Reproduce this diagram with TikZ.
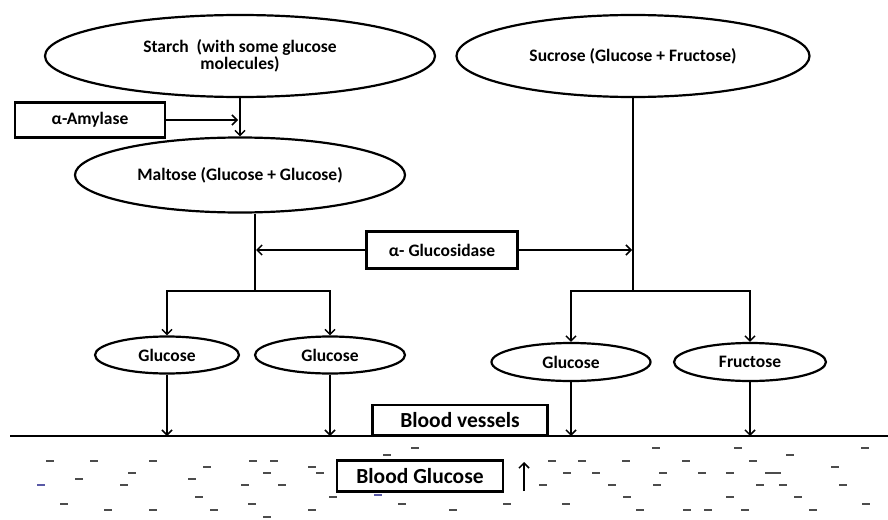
\documentclass[tikz,border=0pt]{standalone}
\usepackage{fontspec}
\setmainfont{Carlito}
\usetikzlibrary{shapes.geometric, arrows.meta}

\begin{document}
\begin{tikzpicture}[x=1pt, y=-1pt, >={Straight Barb[length=5pt,width=10pt]},
    every node/.style={font=\bfseries\fontsize{17.5}{17}\selectfont},
    big/.style={font=\bfseries\fontsize{21.5}{22}\selectfont},
    sugar/.style={ellipse, draw, line width=2.2pt, inner sep=0pt},
    enzyme/.style={rectangle, draw, line width=2.4pt, inner sep=0pt},
    link/.style={->, line width=1.5pt}]
    \useasboundingbox (0,0) rectangle (888,519);
    % top level sugars
    \node[sugar, minimum width=390, minimum height=82, align=center] (starch) at (240,56)
        {Starch\ \ (with some glucose\\molecules)};
    \node[sugar, minimum width=353, minimum height=82] (sucrose) at (633,56) {Sucrose (Glucose + Fructose)};
    \node[sugar, minimum width=330, minimum height=75] (maltose) at (240,175) {Maltose (Glucose + Glucose)};
    % enzymes
    \node[enzyme, minimum width=150, minimum height=35] (amylase) at (90,120) {α-Amylase};
    \node[enzyme, minimum width=151, minimum height=37] (glucosidase) at (442,250) {α- Glucosidase};
    % products
    \node[sugar, minimum width=144, minimum height=37] (g1) at (167,355) {Glucose};
    \node[sugar, minimum width=150, minimum height=37] (g2) at (330,355) {Glucose};
    \node[sugar, minimum width=159, minimum height=38] (g3) at (571,362) {Glucose};
    \node[sugar, minimum width=152, minimum height=38] (fru) at (750,362) {Fructose};
    % blood
    \node[enzyme, big, minimum width=175, minimum height=30] (vessel) at (460,420) {Blood vessels};
    \node[enzyme, big, minimum width=166, minimum height=31] (bgluc) at (420,476) {Blood Glucose};
    \coordinate (bl) at (10,436);
    \coordinate (br) at (888,436);
    \coordinate (mfork) at (255,291);
    \coordinate (sfork) at (633,291);
    \coordinate (rise) at (524,491);

    \draw[link] (starch.south) -- (maltose.north);
    \draw[link, shorten >=2pt] (amylase.east) -- (amylase.east -| starch.south);
    \draw[line width=1.5pt] (maltose.south -| mfork) -- (mfork);
    \draw[line width=1.5pt] (sucrose.south) -- (sfork);
    \draw[link, shorten >=1pt] (glucosidase.west) -- (glucosidase.west -| mfork);
    \draw[link, shorten >=1pt] (glucosidase.east) -- (glucosidase.east -| sfork);
    \draw[link] (mfork) -| (g1);
    \draw[link] (mfork) -| (g2);
    \draw[link] (sfork) -| (g3);
    \draw[link] (sfork) -| (fru);
    \foreach \n in {g1,g2,g3,fru} {
        \draw[link] (\n.south) -- (\n.south |- bl);
    }
    \draw[line width=1.2pt] (bl) -- (br);
    \draw[->, line width=1.5pt] (rise) -- ++(0,-29);
    % dissolved glucose
    \foreach \x/\y in {50/461,94/461,153/461,207/467,253/461,274/461,312/467,132/473,267/473,320/473,
        79/479,124/485,192/479,245/485,282/485,199/497,333/497,387/455,415/448,64/504,108/510,
        153/510,214/510,252/504,312/510,267/517,402/504,656/448,738/448,790/455,865/448,552/461,
        582/461,626/461,686/461,753/461,567/473,596/473,663/473,702/473,730/473,835/467,543/485,
        612/485,657/485,760/485,783/485,843/485,627/497,730/497,798/497,507/504,566/504,866/504,
        453/510,640/510,687/510,708/510,745/510,813/510} {
        \draw[gray!60!black, line width=1.1pt] (\x-4,\y) -- (\x+4,\y);
    }
    \foreach \x/\y in {41/485,378/495} {
        \draw[blue!30!gray, line width=1.1pt] (\x-4,\y) -- (\x+4,\y);
    }
    \draw[gray!60!black, line width=1.1pt] (765,473) -- (781,473);
\end{tikzpicture}
\end{document}
